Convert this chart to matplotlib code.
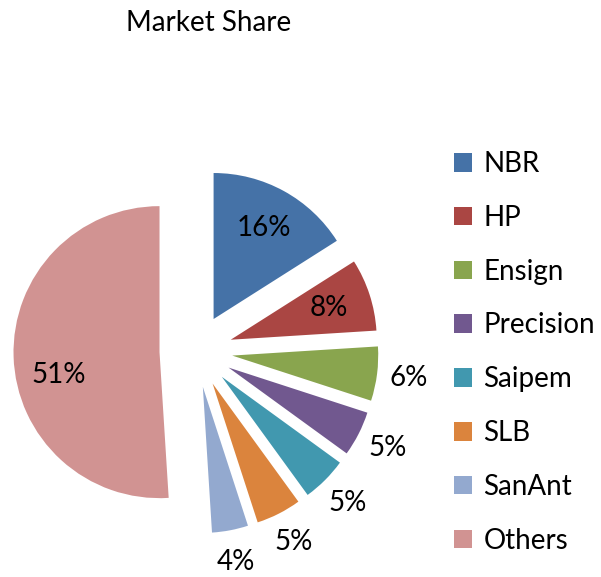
import numpy as np
import matplotlib
matplotlib.use('Agg')
import matplotlib.pyplot as plt
from matplotlib.patches import Patch

plt.rcParams['font.family'] = ['Lato', 'DejaVu Sans']

companies = ['NBR', 'HP', 'Ensign', 'Precision', 'Saipem', 'SLB', 'SanAnt', 'Others']
share = [16, 8, 6, 5, 5, 5, 4, 51]
label_inside = [True, True, False, False, False, False, False, True]
colors = ['#4572A7', '#AA4643', '#89A54E', '#71588F', '#4198AF', '#DB843D', '#93A9CF', '#D19392']

W, H = 601, 577
cx, cy, R = 196, 351, 146  # pie centre and radius in pixels

fig = plt.figure(figsize=(W / 100, H / 100), dpi=100)
ax = fig.add_axes([0, 0, 1, 1])

wedges, _ = ax.pie(share, colors=colors, startangle=90, counterclock=False,
                   explode=[0.25] * len(share), radius=1.0,
                   wedgeprops=dict(linewidth=0))
ax.set_xlim(-cx / R, (W - cx) / R)
ax.set_ylim(-(H - cy) / R, cy / R)
ax.set_aspect('equal')
ax.axis('off')

for w, val, inside in zip(wedges, share, label_inside):
    mid = (w.theta1 + w.theta2) / 2
    if val > 50:
        mid += 11  # excel best-fit drops the big label a bit
    th = np.deg2rad(mid)
    r = 0.71 if inside else 1.22
    x = w.center[0] + r * np.cos(th)
    y = w.center[1] + r * np.sin(th)
    ax.text(x, y, f'{val}%', ha='center', va='center', fontsize=20, color='black')

handles = [Patch(facecolor=c, edgecolor='none') for c in colors]
fig.legend(handles, companies, loc='upper left', bbox_to_anchor=(443 / W, 1 - 140 / H),
           frameon=False, fontsize=20, handlelength=0.65, handleheight=0.65,
           handletextpad=0.4, labelspacing=1.0, borderaxespad=0)

fig.text(209 / W, 1 - 23 / H, 'Market Share', ha='center', va='center', fontsize=20)

fig.savefig('out.png', dpi=100)
